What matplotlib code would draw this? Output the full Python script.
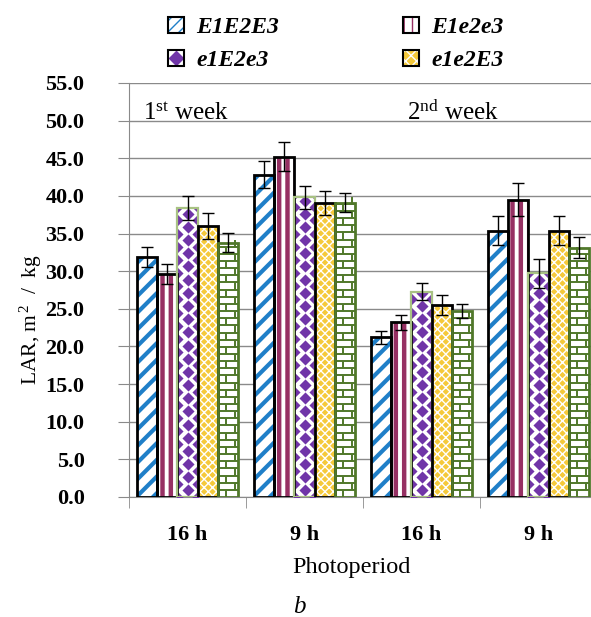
import numpy as np
import matplotlib
matplotlib.use('Agg')
import matplotlib.pyplot as plt
from matplotlib.patches import Patch
from matplotlib.lines import Line2D
from matplotlib.collections import LineCollection
from matplotlib.legend_handler import HandlerTuple

plt.rcParams['font.family'] = ['Liberation Serif', 'DejaVu Serif']
plt.rcParams['mathtext.fontset'] = 'custom'
plt.rcParams['mathtext.rm'] = 'Liberation Serif'
plt.rcParams['mathtext.it'] = 'Liberation Serif:italic'

# data
photoperiods = ['16 h', '9 h', '16 h', '9 h']
week_labels = ['1$^{\\rm st}$ week', '2$^{\\rm nd}$ week']
genotypes = ['E1E2E3', 'E1e2e3', 'e1E2e3', 'e1e2E3', 'e1e2e3']

E1E2E3 = [31.9, 42.8, 21.2, 35.4]
E1E2E3_err = [1.35, 1.8, 0.9, 1.9]
E1e2e3 = [29.6, 45.2, 23.2, 39.5]
E1e2e3_err = [1.3, 1.9, 1.0, 2.2]
e1E2e3 = [38.4, 39.8, 27.3, 29.7]
e1E2e3_err = [1.6, 1.5, 1.15, 1.95]
e1e2E3 = [36.0, 39.1, 25.5, 35.4]
e1e2E3_err = [1.7, 1.6, 1.3, 1.95]
e1e2e3 = [33.8, 39.1, 24.7, 33.1]
e1e2e3_err = [1.24, 1.3, 0.9, 1.4]

series = [E1E2E3, E1e2e3, e1E2e3, e1e2E3, e1e2e3]
errors = [E1E2E3_err, E1e2e3_err, e1E2e3_err, e1e2E3_err, e1e2e3_err]

blue = '#1f7fc8'
maroon = '#963063'
purple = '#7035a8'
gold = '#f5c93a'
green = '#50782a'
pale_green = '#a8c283'
grid_c = '#8a8a8a'

fig = plt.figure(figsize=(5.91, 6.17), dpi=100)
ax = fig.add_axes([129/591, 120/617, 468/591, 414/617])
ax.set_xlim(0, 4)
ax.set_ylim(0, 55)
ax.set_axisbelow(True)

for s in ['top', 'right']:
    ax.spines[s].set_visible(False)
for s in ['left', 'bottom']:
    ax.spines[s].set_color(grid_c)
ax.yaxis.grid(True, color=grid_c, lw=1)

yt = np.arange(0, 56, 5)
ax.set_yticks(yt)
ax.set_yticklabels([f'{v:.1f}' for v in yt], fontweight='bold', fontsize=16)
ax.tick_params(axis='y', length=8, color=grid_c, pad=24)

xc = np.arange(4) + 0.5
ax.set_xticks(xc)
ax.set_xticklabels(photoperiods, fontweight='bold', fontsize=16)
ax.set_xticks(np.arange(5), minor=True)
ax.tick_params(axis='x', which='major', length=0, pad=20)
ax.tick_params(axis='x', which='minor', length=8, color=grid_c)

w = 0.1735


def hatch_bar(x, h, face, hcol, hatch, hlw, edge, elw):
    b = ax.bar(x, h, w, color=face, edgecolor=hcol, hatch=hatch, lw=0, zorder=2)
    for r in b:
        if hasattr(r, 'set_hatch_linewidth'):
            r.set_hatch_linewidth(hlw)
    ax.bar(x, h, w, fill=False, edgecolor=edge, lw=elw, zorder=4)
    return b


# E1E2E3 - blue diagonal stripes
x0 = xc + (0 - 2) * w
hatch_bar(x0, series[0], 'white', blue, '//', 3.0, 'black', 2)

# E1e2e3 - maroon vertical stripes
x1 = xc + (1 - 2) * w
hatch_bar(x1, series[1], 'white', maroon, '||', 3.2, 'black', 2)

# e1E2e3 - purple diamonds
x2 = xc + (2 - 2) * w
bars2 = ax.bar(x2, series[2], w, color='white', lw=0, zorder=2)
step = 1.75
for r in bars2:
    cx = r.get_x() + w / 2
    h = r.get_height()
    yc = np.arange(step / 2, h + step, step)
    ye = np.arange(0, h + step, step)
    px = np.concatenate([np.full(len(yc), cx), np.full(len(ye), cx - w / 2), np.full(len(ye), cx + w / 2)])
    py = np.concatenate([yc, ye, ye])
    sc = ax.scatter(px, py, marker='D', s=38, color=purple, lw=0, zorder=3)
    sc.set_clip_path(r)
ax.bar(x2, series[2], w, fill=False, edgecolor=pale_green, lw=1.6, zorder=4)

# e1e2E3 - fine gold checks
x3 = xc + (3 - 2) * w
hatch_bar(x3, series[3], gold, 'white', 'xxxx', 1.0, 'black', 2)

# e1e2e3 - green bricks
x4 = xc + (4 - 2) * w
bars4 = ax.bar(x4, series[4], w, color='white', lw=0, zorder=2)
row = 0.95
for r in bars4:
    left = r.get_x()
    h = r.get_height()
    segs = []
    for yy in np.arange(row, h, row):
        segs.append([(left, yy), (left + w, yy)])
    for k, yy in enumerate(np.arange(0, h, row)):
        xv = left + w * (0.4 if k % 2 == 0 else 0.85)
        segs.append([(xv, yy), (xv, yy + row)])
    lc = LineCollection(segs, colors=green, lw=1.4, zorder=3)
    lc.set_clip_path(r)
    ax.add_collection(lc)
ax.bar(x4, series[4], w, fill=False, edgecolor=green, lw=2, zorder=4)

for xs, v, e in zip([x0, x1, x2, x3, x4], series, errors):
    ax.errorbar(xs, v, yerr=e, fmt='none', ecolor='black', elinewidth=1,
                capsize=4, capthick=1, zorder=5)

ax.text(0.12, 50.15, week_labels[0], fontsize=18, va='baseline', zorder=6)
ax.text(2.38, 50.15, week_labels[1], fontsize=18, va='baseline', zorder=6)

fig.text(31/591, 1 - 320/617, 'LAR, m$^{\\,2}$  /  kg', rotation=90,
         ha='center', va='center', fontsize=15.5)
fig.text(351/591, 1 - 567/617, 'Photoperiod', ha='center', va='center', fontsize=17.5)
fig.text(299/591, 1 - 607/617, 'b', ha='center', va='center', fontsize=18, style='italic')

# legend (only four genotypes shown)
def outline(ec='black'):
    return Patch(fill=False, edgecolor=ec, lw=1.5)

handles = [
    (Patch(facecolor='white', edgecolor=blue, hatch='///', lw=0), outline()),
    (Patch(facecolor='white', edgecolor='white', lw=0),
     Line2D([], [], marker='D', color=purple, ls='none', markersize=7), outline()),
    (Patch(facecolor='white', edgecolor=maroon, hatch='||', lw=0), outline()),
    (Patch(facecolor=gold, edgecolor='white', hatch='xxx', lw=0), outline()),
]
labels = [genotypes[0], genotypes[2], genotypes[1], genotypes[3]]
fig.legend(handles, labels, ncol=2, loc='upper left',
           bbox_to_anchor=(156/591, 1 - 5/617), frameon=False, borderpad=0,
           prop={'family': 'Liberation Serif', 'weight': 'bold', 'style': 'italic', 'size': 17},
           handlelength=0.7, handleheight=0.65, handletextpad=0.5,
           columnspacing=5.25, labelspacing=0.5,
           handler_map={tuple: HandlerTuple(ndivide=1)})

fig.savefig('out.png', dpi=100)
